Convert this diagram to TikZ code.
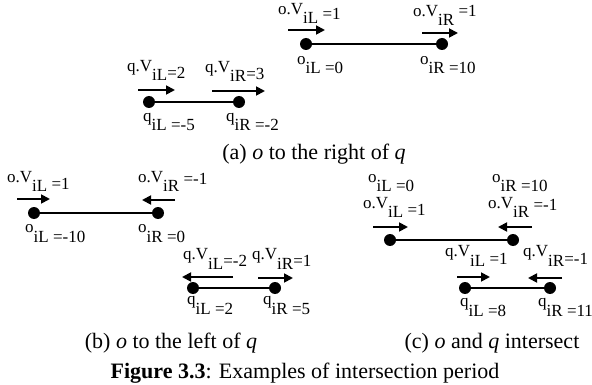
\documentclass[tikz,border=0pt]{standalone}
\usepackage{fontspec}
\setmainfont{Liberation Serif}
\usetikzlibrary{arrows.meta}
\newcommand{\vl}[4][0pt]{\raisebox{9.5pt}{#2}#3\raisebox{#1}{#4}}
\tikzset{
  dot/.style={circle,fill=black,inner sep=0pt,minimum size=12pt},
  seg/.style={line width=1.6pt},
  varrow/.style={-{Triangle[length=9pt,width=9pt]},line width=1.8pt},
  lbl/.style={anchor=base west,inner sep=0pt,font=\fontsize{17}{19}\selectfont},
  capt/.style={anchor=base,inner sep=0pt,font=\fontsize{22}{24}\selectfont},
}

\begin{document}
\begin{tikzpicture}[x=1pt,y=-1pt]
  \useasboundingbox (0,0) rectangle (592,385);

  % (a) o to the right of q
  \node[dot] (aoL) at (306,44) {};
  \node[dot] (aoR) at (442,44) {};
  \node[dot] (aqL) at (149,102) {};
  \node[dot] (aqR) at (239,102) {};
  \draw[seg] (aoL) -- (aoR);
  \draw[seg] (aqL) -- (aqR);
  \coordinate (avoL1) at (288,30);  \coordinate (avoL2) at (325,30);
  \coordinate (avoR1) at (422,33);  \coordinate (avoR2) at (458,33);
  \coordinate (avqL1) at (138,90);  \coordinate (avqL2) at (175,90);
  \coordinate (avqR1) at (212,91);  \coordinate (avqR2) at (265,91);
  \draw[varrow] (avoL1) -- (avoL2);
  \draw[varrow] (avoR1) -- (avoR2);
  \draw[varrow] (avqL1) -- (avqL2);
  \draw[varrow] (avqR1) -- (avqR2);
  \node[lbl] (aoVL) at (278,24) {\vl[4pt]{o.V}{iL}{ =1}};
  \node[lbl] (aoVR) at (413,26) {\vl[9pt]{o.V}{iR}{ =1}};
  \node[lbl] (aoPL) at (297,74) {\vl{o}{iL}{ =0}};
  \node[lbl] (aoPR) at (420,74) {\vl{o}{iR}{ =10}};
  \node[lbl] (aqVL) at (127,81) {\vl[2pt]{q.V}{iL}{=2}};
  \node[lbl] (aqVR) at (205,82) {\vl[2pt]{q.V}{iR}{=3}};
  \node[lbl] (aqPL) at (143,131) {\vl{q}{iL}{ =-5}};
  \node[lbl] (aqPR) at (226,131) {\vl{q}{iR}{ =-2}};
  \node[capt] (capa) at (314,160) {(a) \textit{o} to the right of \textit{q}};

  % (b) o to the left of q
  \node[dot] (boL) at (34,213) {};
  \node[dot] (boR) at (158,213) {};
  \node[dot] (bqL) at (193,288) {};
  \node[dot] (bqR) at (275,288) {};
  \draw[seg] (boL) -- (boR);
  \draw[seg] (bqL) -- (bqR);
  \coordinate (bvoL1) at (17,199);  \coordinate (bvoL2) at (50,199);
  \coordinate (bvoR1) at (175,200); \coordinate (bvoR2) at (142,200);
  \coordinate (bvqL1) at (233,277); \coordinate (bvqL2) at (182,277);
  \coordinate (bvqR1) at (258,278); \coordinate (bvqR2) at (293,278);
  \draw[varrow] (bvoL1) -- (bvoL2);
  \draw[varrow] (bvoR1) -- (bvoR2);
  \draw[varrow] (bvqL1) -- (bvqL2);
  \draw[varrow] (bvqR1) -- (bvqR2);
  \node[lbl] (boVL) at (7,192) {\vl[2pt]{o.V}{iL}{ =1}};
  \node[lbl] (boVR) at (138,192) {\vl[7pt]{o.V}{iR}{ =-1}};
  \node[lbl] (boPL) at (25,242) {\vl{o}{iL}{ =-10}};
  \node[lbl] (boPR) at (138,242) {\vl{o}{iR}{ =0}};
  \node[lbl] (bqVL) at (183,269) {\vl[2pt]{q.V}{iL}{=-2}};
  \node[lbl] (bqVR) at (252,269) {\vl[2pt]{q.V}{iR}{=1}};
  \node[lbl] (bqPL) at (187,314) {\vl{q}{iL}{ =2}};
  \node[lbl] (bqPR) at (263,314) {\vl{q}{iR}{ =5}};
  \node[capt] (capb) at (171,348) {(b) \textit{o} to the left of \textit{q}};

  % (c) o and q intersect
  \node[dot] (coL) at (390,240) {};
  \node[dot] (coR) at (513,240) {};
  \node[dot] (cqL) at (465,288) {};
  \node[dot] (cqR) at (550,288) {};
  \draw[seg] (coL) -- (coR);
  \draw[seg] (cqL) -- (cqR);
  \coordinate (cvoL1) at (373,227); \coordinate (cvoL2) at (408,227);
  \coordinate (cvoR1) at (532,227); \coordinate (cvoR2) at (498,227);
  \coordinate (cvqL1) at (457,277); \coordinate (cvqL2) at (490,277);
  \coordinate (cvqR1) at (562,278); \coordinate (cvqR2) at (528,278);
  \draw[varrow] (cvoL1) -- (cvoL2);
  \draw[varrow] (cvoR1) -- (cvoR2);
  \draw[varrow] (cvqL1) -- (cvqL2);
  \draw[varrow] (cvqR1) -- (cvqR2);
  \node[lbl] (coPL) at (368,192) {\vl{o}{iL}{ =0}};
  \node[lbl] (coPR) at (492,192) {\vl{o}{iR}{ =10}};
  \node[lbl] (coVL) at (363,218) {\vl[2pt]{o.V}{iL}{ =1}};
  \node[lbl] (coVR) at (488,218) {\vl[7pt]{o.V}{iR}{ =-1}};
  \node[lbl] (cqVL) at (445,266) {\vl[2pt]{q.V}{iL}{ =1}};
  \node[lbl] (cqVR) at (523,266) {\vl[2pt]{q.V}{iR}{=-1}};
  \node[lbl] (cqPL) at (460,316) {\vl{q}{iL}{ =8}};
  \node[lbl] (cqPR) at (538,316) {\vl{q}{iR}{ =11}};
  \node[capt] (capc) at (492,348) {(c) \textit{o} and \textit{q} intersect};

  \node[capt] (fig) at (305,378) {\textbf{Figure 3.3}: Examples of intersection period};
\end{tikzpicture}
\end{document}
